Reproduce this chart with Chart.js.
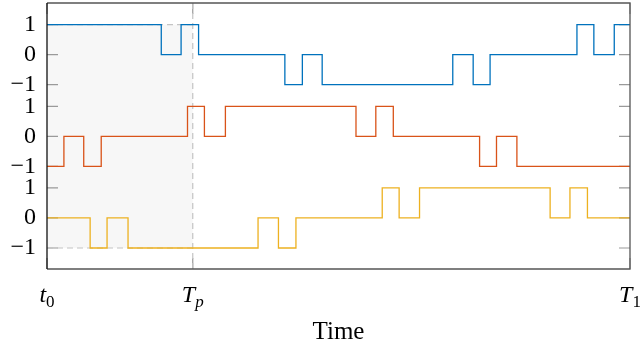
<!DOCTYPE html>
<html>
<head>
<meta charset="utf-8">
<script src="https://cdn.jsdelivr.net/npm/chart.js@4.4.1/dist/chart.umd.min.js"></script>
<style>
  html, body { margin: 0; padding: 0; background: #fff; }
  #wrap { width: 642px; height: 351px; }
</style>
</head>
<body>
<div id="wrap"><canvas id="sig"></canvas></div>
<script>
// switching times (x) and levels for each signal
var blueT = [0, 19.6, 23.0, 26.0, 40.8, 43.8, 47.2, 69.6, 73.1, 76.0, 90.9, 93.8, 97.3, 100];
var blueV = [1, 0, 1, 0, -1, 0, -1, 0, -1, 0, 1, 0, 1, 1];

var orangeT = [0, 2.9, 6.3, 9.3, 24.1, 27.0, 30.6, 53.0, 56.4, 59.4, 74.2, 77.1, 80.6, 100];
var orangeV = [-1, 0, -1, 0, 1, 0, 1, 0, 1, 0, -1, 0, -1, -1];

var yellowT = [0, 7.4, 10.3, 13.9, 36.2, 39.7, 42.7, 57.5, 60.4, 63.9, 86.3, 89.7, 92.7, 100];
var yellowV = [0, -1, 0, -1, 0, -1, 0, 1, 0, 1, 0, 1, 0, 0];

// x ticks: t0, Tp, T1
var xTickValues = [0, 25, 100];
var xTickMain = ['t', 'T', 'T'];
var xTickSub = ['0', 'p', '1'];

var levelLabels = ['\u22121', '0', '1'];
var tp = 25;

// vertical stacking of the three signals
var blueOff = 5.44, orangeOff = 2.72, yellowOff = 0;
var offsets = [yellowOff, orangeOff, blueOff];

var yTickValues = [];
var yTickLabels = [];
offsets.forEach(function (off) {
    [-1, 0, 1].forEach(function (lv, i) {
        yTickValues.push(off + lv);
        yTickLabels.push(levelLabels[i]);
    });
});

function toPoints(ts, vs, off) {
    return ts.map(function (t, i) { return {x: t, y: vs[i] + off}; });
}

var serif = '"Liberation Serif", "DejaVu Serif", serif';

var decor = {
    id: 'decor',
    beforeDatasetsDraw: function (chart) {
        var ctx = chart.ctx, a = chart.chartArea, x = chart.scales.x, y = chart.scales.y;
        var xp = x.getPixelForValue(tp);
        var x0 = x.getPixelForValue(0);
        var top = y.getPixelForValue(blueOff + 1);
        var bot = y.getPixelForValue(yellowOff - 1);
        ctx.save();
        // shaded window t0..Tp
        ctx.fillStyle = '#f7f7f7';
        ctx.fillRect(x0, top, xp - x0, bot - top);

        // inside tick marks (under the signals)
        ctx.strokeStyle = '#9a9a9a';
        ctx.lineWidth = 1.2;
        ctx.beginPath();
        yTickValues.forEach(function (v) {
            var py = y.getPixelForValue(v);
            ctx.moveTo(a.left, py); ctx.lineTo(a.left + 11, py);
            ctx.moveTo(a.right, py); ctx.lineTo(a.right - 11, py);
        });
        xTickValues.forEach(function (v) {
            var px = x.getPixelForValue(v);
            ctx.moveTo(px, a.bottom); ctx.lineTo(px, a.bottom - 11);
            ctx.moveTo(px, a.top); ctx.lineTo(px, a.top + 11);
        });
        ctx.stroke();

        ctx.setLineDash([6, 4]);
        ctx.strokeStyle = '#c4c4c4';
        ctx.lineWidth = 1.2;
        ctx.beginPath();
        ctx.moveTo(xp, a.top);
        ctx.lineTo(xp, a.bottom);
        ctx.moveTo(x0, top);
        ctx.lineTo(xp, top);
        ctx.moveTo(x0, bot);
        ctx.lineTo(xp, bot);
        ctx.stroke();
        ctx.restore();
    },
    afterDraw: function (chart) {
        var ctx = chart.ctx, a = chart.chartArea, x = chart.scales.x;
        ctx.save();
        // frame
        ctx.lineWidth = 1.3;
        ctx.strokeStyle = '#555';
        ctx.beginPath();
        ctx.moveTo(a.left, a.top); ctx.lineTo(a.right, a.top);
        ctx.lineTo(a.right, a.bottom); ctx.lineTo(a.left, a.bottom);
        ctx.stroke();
        ctx.strokeStyle = '#111';
        ctx.beginPath();
        ctx.moveTo(a.left, a.top); ctx.lineTo(a.left, a.bottom);
        ctx.stroke();

        // x tick labels with subscripts
        ctx.fillStyle = '#000';
        ctx.textBaseline = 'alphabetic';
        ctx.textAlign = 'left';
        xTickValues.forEach(function (v, i) {
            var px = x.getPixelForValue(v);
            var mainFont = 'italic 24px ' + serif;
            var subFont = (/[0-9]/.test(xTickSub[i]) ? '' : 'italic ') + '17px ' + serif;
            ctx.font = mainFont;
            var wm = ctx.measureText(xTickMain[i]).width;
            ctx.font = subFont;
            var ws = ctx.measureText(xTickSub[i]).width;
            var sx = px - (wm + ws) / 2;
            var base = a.bottom + 33;
            ctx.font = mainFont;
            ctx.fillText(xTickMain[i], sx, base);
            ctx.font = subFont;
            ctx.fillText(xTickSub[i], sx + wm, base + 5);
        });
        ctx.restore();
    }
};

var ctx = document.getElementById('sig').getContext('2d');
var chart = new Chart(ctx, {
    type: 'line',
    data: {
        datasets: [
            {
                label: 'signal 1',
                data: toPoints(blueT, blueV, blueOff),
                borderColor: '#0072BD',
                borderWidth: 1.3,
                stepped: 'before',
                pointRadius: 0,
                fill: false
            },
            {
                label: 'signal 2',
                data: toPoints(orangeT, orangeV, orangeOff),
                borderColor: '#D95319',
                borderWidth: 1.3,
                stepped: 'before',
                pointRadius: 0,
                fill: false
            },
            {
                label: 'signal 3',
                data: toPoints(yellowT, yellowV, yellowOff),
                borderColor: '#EDB120',
                borderWidth: 1.3,
                stepped: 'before',
                pointRadius: 0,
                fill: false
            }
        ]
    },
    options: {
        responsive: true,
        maintainAspectRatio: false,
        animation: false,
        layout: { padding: { left: 0, right: 12, top: 3, bottom: 0 } },
        plugins: {
            legend: { display: false },
            tooltip: { enabled: false }
        },
        scales: {
            x: {
                type: 'linear',
                min: 0,
                max: 100,
                grid: { display: false, drawTicks: false },
                border: { display: false },
                ticks: { display: false },
                title: {
                    display: true,
                    text: 'Time',
                    color: '#000',
                    font: { family: serif, size: 25 },
                    padding: { top: 0, bottom: 4 }
                },
                afterFit: function (scale) {
                    scale.height = 82;
                    scale.paddingLeft = 0;
                    scale.paddingRight = 0;
                }
            },
            y: {
                type: 'linear',
                min: -1.7,
                max: 7.16,
                grid: { display: false, drawTicks: false },
                border: { display: false },
                afterBuildTicks: function (scale) {
                    scale.ticks = yTickValues.map(function (v) { return {value: v}; });
                },
                ticks: {
                    padding: 11,
                    color: '#000',
                    font: { family: serif, size: 24 },
                    callback: function (value, index) { return yTickLabels[index]; }
                },
                afterFit: function (scale) {
                    scale.width = 47;
                    scale.paddingTop = 0;
                    scale.paddingBottom = 0;
                }
            }
        }
    },
    plugins: [decor]
});
</script>
</body>
</html>
